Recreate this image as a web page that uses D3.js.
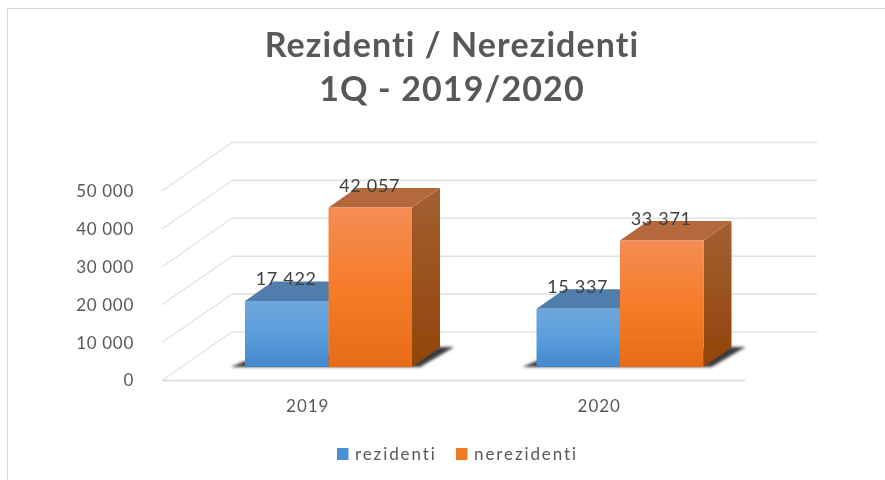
<!DOCTYPE html>
<html>
<head>
<meta charset="utf-8">
<script src="https://cdn.jsdelivr.net/npm/d3@7"></script>
<style>
  html, body { margin: 0; padding: 0; background: #fff; }
  text { font-family: Lato, "Open Sans", sans-serif; }
</style>
</head>
<body>
<div id="chart"></div>
<script>
// valores
const years = ["2019", "2020"];
const seriesNames = ["rezidenti", "nerezidenti"];
const rezidenti = [17422, 15337];
const nerezidenti = [42057, 33371];
const yTicks = [0, 10000, 20000, 30000, 40000, 50000];
const titleLines = ["Rezidenti / Nerezidenti", "1Q - 2019/2020"];

const W = 885, H = 480;
const svg = d3.select("#chart").append("svg")
    .attr("width", W).attr("height", H)
    .style("display", "block");

const defs = svg.append("defs");

function vGrad(id, stops) {
    const g = defs.append("linearGradient").attr("id", id)
        .attr("x1", 0).attr("y1", 0).attr("x2", 0).attr("y2", 1);
    stops.forEach((c, i) => {
        g.append("stop").attr("offset", i / (stops.length - 1)).attr("stop-color", c);
    });
}
vGrad("blueFront", ["#6fa7dc", "#5b9edd", "#4288cc"]);
vGrad("orangeFront", ["#f48d55", "#f67c2a", "#e76c18"]);
vGrad("blueSide", ["#4d7cab", "#2c5f95"]);
vGrad("orangeSide", ["#a35f33", "#924409"]);

function blurFilter(id, dev) {
    // region amplia: los ejes estan dentro de grupos trasladados
    const f = defs.append("filter").attr("id", id)
        .attr("filterUnits", "userSpaceOnUse")
        .attr("x", -W).attr("y", -H).attr("width", 3 * W).attr("height", 3 * H);
    f.append("feGaussianBlur").attr("stdDeviation", dev);
}
blurFilter("shadowBlur", 1.8);
// ligero desenfoque, la imagen original es una captura escalada
blurFilter("soft", 0.5);

// Marco del grafico
svg.append("path")
    .attr("d", "M7.5,480V8.5H885")
    .attr("fill", "none")
    .attr("stroke", "#d9d9d9");

// Titulo
svg.append("g").selectAll("text")
    .data(titleLines)
    .join("text")
    .attr("x", 452)
    .attr("y", (d, i) => 57 + i * 44)
    .attr("text-anchor", "middle")
    .attr("font-size", 34)
    .attr("font-weight", 700)
    .attr("letter-spacing", 1.1)
    .attr("fill", "#595959")
    .attr("filter", "url(#soft)")
    .text(d => d);

// Escalas: plano frontal y desplazamiento de profundidad
const x = d3.scaleBand().domain(years).range([162, 745]);
const xInner = d3.scaleBand().domain(seriesNames)
    .range([83, 250]);
const y = d3.scaleLinear().domain([0, 50000]).range([380.5, 191]);
const depth = { dx: 70, dy: -48.5 };
const bar = { dx: 28, dy: -19.5, lift: 13.5 };

const fmt = v => d3.format(",")(v).replace(/,/g, " ");

// Suelo y paredes
const grid = svg.append("g").attr("fill", "none")
    .attr("stroke", "#e2e2e2").attr("filter", "url(#soft)");
grid.selectAll(".back").data(yTicks).join("line")
    .attr("class", "back")
    .attr("stroke-width", 1.6)
    .attr("x1", x.range()[0] + depth.dx)
    .attr("x2", x.range()[1] + depth.dx + 2)
    .attr("y1", d => y(d) + depth.dy)
    .attr("y2", d => y(d) + depth.dy);
grid.selectAll(".side").data(yTicks).join("line")
    .attr("class", "side")
    .attr("stroke-width", 1.2)
    .attr("x1", x.range()[0])
    .attr("x2", x.range()[0] + depth.dx)
    .attr("y1", d => y(d))
    .attr("y2", d => y(d) + depth.dy);
grid.append("line")
    .attr("stroke-width", 2)
    .attr("x1", x.range()[0]).attr("x2", x.range()[1])
    .attr("y1", y(0)).attr("y2", y(0));

// Eje Y
const yAxis = d3.axisLeft(y).tickValues(yTicks).tickSize(0).tickPadding(0).tickFormat(fmt);
svg.append("g")
    .attr("transform", "translate(134,0)")
    .call(yAxis)
    .call(g => g.select(".domain").remove())
    .call(g => g.selectAll("text")
        .attr("font-family", "Lato")
        .attr("font-size", 17)
        .attr("letter-spacing", 0.7)
        .attr("fill", "#595959")
        .attr("filter", "url(#soft)"));

// Eje X
const xAxis = d3.axisBottom(x).tickSize(0).tickPadding(0);
svg.append("g")
    .attr("transform", "translate(0,400)")
    .call(xAxis)
    .call(g => g.select(".domain").remove())
    .call(g => g.selectAll("text")
        .attr("font-family", "Lato")
        .attr("font-size", 17)
        .attr("letter-spacing", 1)
        .attr("fill", "#595959")
        .attr("filter", "url(#soft)"));

// Barras
const rows = years.map((year, i) => [
    { year, name: "rezidenti", value: rezidenti[i], front: "blueFront", side: "blueSide", top: "#4f7dac" },
    { year, name: "nerezidenti", value: nerezidenti[i], front: "orangeFront", side: "orangeSide", top: "#b5673a" }
]);

const groups = svg.append("g").selectAll("g").data(rows).join("g");

// Sombra bajo cada grupo
groups.append("path")
    .attr("fill", "#3a3a3a")
    .attr("filter", "url(#shadowBlur)")
    .attr("d", d => {
        const x0 = x(d[0].year) + xInner(d[0].name);
        const x1 = x(d[1].year) + xInner(d[1].name) + xInner.bandwidth();
        const yb = y(0) - bar.lift;
        return `M${x0 - 14},${yb}L${x0},${yb - 6}L${x1 + 24},${yb - 20}L${x1 + 42},${yb - 20}L${x1 + 8},${yb}Z`;
    });

groups.selectAll(".col").data(d => d).join("g").attr("class", "col")
    .attr("filter", "url(#soft)")
    .each(function (d) {
        const g = d3.select(this);
        const x0 = x(d.year) + xInner(d.name);
        const x1 = x0 + xInner.bandwidth();
        const yb = y(0) - bar.lift;
        const yt = y(d.value) - bar.lift;
        // cara lateral
        g.append("path")
            .attr("fill", `url(#${d.side})`)
            .attr("d", `M${x1},${yt}L${x1 + bar.dx},${yt + bar.dy}V${yb + bar.dy}L${x1},${yb}Z`);
        // cara superior
        g.append("path")
            .attr("fill", d.top)
            .attr("d", `M${x0},${yt}L${x0 + bar.dx},${yt + bar.dy}H${x1 + bar.dx}L${x1},${yt}Z`);
        // cara frontal
        g.append("rect")
            .attr("x", x0).attr("y", yt)
            .attr("width", x1 - x0).attr("height", yb - yt)
            .attr("fill", `url(#${d.front})`);
    });

// Etiquetas de valores (encima de las barras)
svg.append("g").selectAll("text")
    .data(rows.flat())
    .join("text")
    .attr("x", d => x(d.year) + xInner(d.name) + xInner.bandwidth() / 2 - 0.5)
    .attr("y", d => y(d.value) - bar.lift - 15.5)
    .attr("text-anchor", "middle")
    .attr("font-size", 18)
    .attr("letter-spacing", 0.7)
    .attr("fill", "#404040")
    .attr("filter", "url(#soft)")
    .text(d => fmt(d.value));

// Leyenda
const legendX = d3.scalePoint().domain(seriesNames).range([337, 456]);
const legendColors = d3.scaleOrdinal().domain(seriesNames).range(["#4a90d6", "#f07a22"]);
const legend = svg.append("g").selectAll("g").data(seriesNames).join("g")
    .attr("transform", d => `translate(${legendX(d)},448)`);
legend.append("rect")
    .attr("width", 11.5).attr("height", 12)
    .attr("fill", d => legendColors(d));
legend.append("text")
    .attr("x", 18).attr("y", 12)
    .attr("font-size", 17)
    .attr("letter-spacing", 1.9)
    .attr("fill", "#595959")
    .attr("filter", "url(#soft)")
    .text(d => d);
</script>
</body>
</html>
